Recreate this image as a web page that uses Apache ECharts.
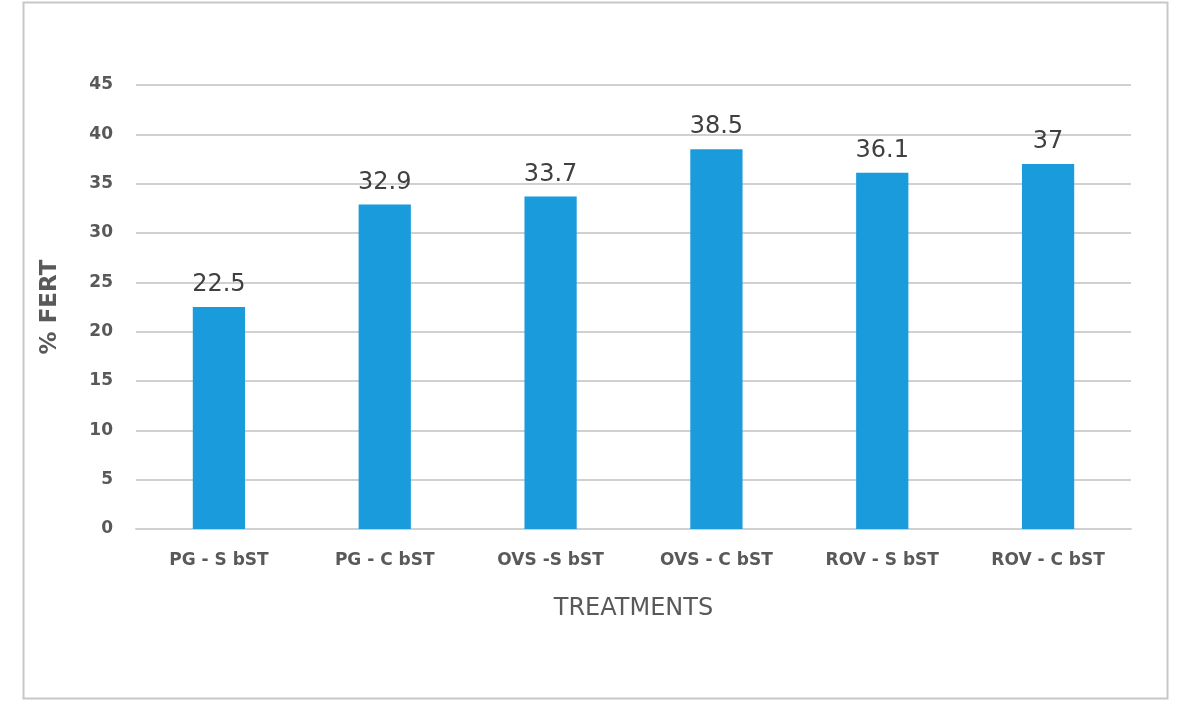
<!DOCTYPE html>
<html><head><meta charset="utf-8">
<script src="https://cdn.jsdelivr.net/npm/echarts@6/dist/echarts.min.js"></script>
<style>html,body{margin:0;padding:0;background:#fff}#c{width:1178px;height:707px}</style>
</head><body><div id="c"></div>
<script>
const categories = ['PG - S bST','PG - C bST','OVS -S bST','OVS - C bST','ROV - S bST','ROV - C bST'];
const values = [22.5, 32.9, 33.7, 38.5, 36.1, 37];
const yTicks = {min:0, max:45, interval:5};

const chart = echarts.init(document.getElementById('c'));
chart.setOption({
  animation:false,
  backgroundColor:'#fff',
  graphic:[{type:'rect', shape:{x:23.5,y:2.5,width:1144,height:696}, style:{fill:'none', stroke:'#c8c8c8', lineWidth:2}}],
  grid:{left:136, right:47, top:85, bottom:178},
  xAxis:{type:'category', data:categories,
    axisLine:{lineStyle:{color:'#d0d0d0', width:2}}, axisTick:{show:false},
    axisLabel:{color:'#595959', fontFamily:'DejaVu Sans', fontWeight:'bold', fontSize:17, margin:23},
    name:'TREATMENTS', nameLocation:'middle', nameGap:68,
    nameTextStyle:{color:'#595959', fontFamily:'DejaVu Sans', fontSize:24}},
  yAxis:{type:'value', min:yTicks.min, max:yTicks.max, interval:yTicks.interval,
    axisLine:{show:false}, axisTick:{show:false},
    splitLine:{lineStyle:{color:'#d0d0d0', width:2}},
    axisLabel:{color:'#595959', fontFamily:'DejaVu Sans', fontWeight:'bold', fontSize:17, margin:23},
    name:'% FERT', nameLocation:'middle', nameGap:74,
    nameTextStyle:{color:'#595959', fontFamily:'DejaVu Sans', fontWeight:'bold', fontSize:23}},
  series:[{type:'bar', data:values, barWidth:'31.5%',
    itemStyle:{color:'#1a9bdc'},
    label:{show:true, position:'top', distance:10, color:'#404040', fontFamily:'DejaVu Sans', fontSize:24}}]
});
</script></body></html>
